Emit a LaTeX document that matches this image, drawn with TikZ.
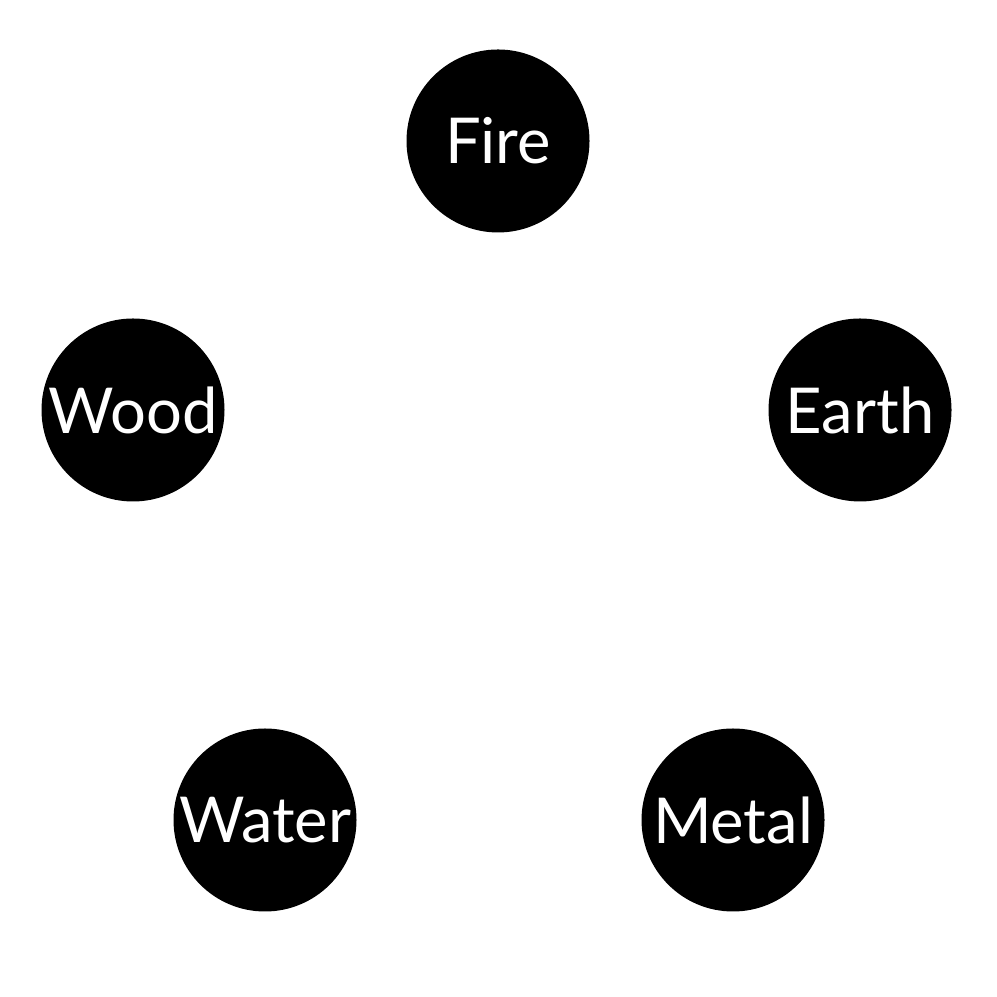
\documentclass[tikz,border=0pt]{standalone}
\usepackage{fontspec}
\setmainfont{Lato}
\usepackage{tikz}
\tikzset{
  element/.style={circle, fill=black, text=white, minimum size=1.83cm,
    inner sep=0pt, font=\fontsize{18}{21}\selectfont}
}

\begin{document}
\begin{tikzpicture}
  \useasboundingbox (0,0) rectangle (9.97,9.97);
  \node[element] (fire)  at (4.98,8.56) {Fire};
  \node[element] (earth) at (8.60,5.87) {Earth};
  \node[element] (wood)  at (1.33,5.87) {Wood};
  \node[element] (water) at (2.65,1.77) {Water};
  \node[element] (metal) at (7.33,1.77) {Metal};
\end{tikzpicture}
\end{document}
